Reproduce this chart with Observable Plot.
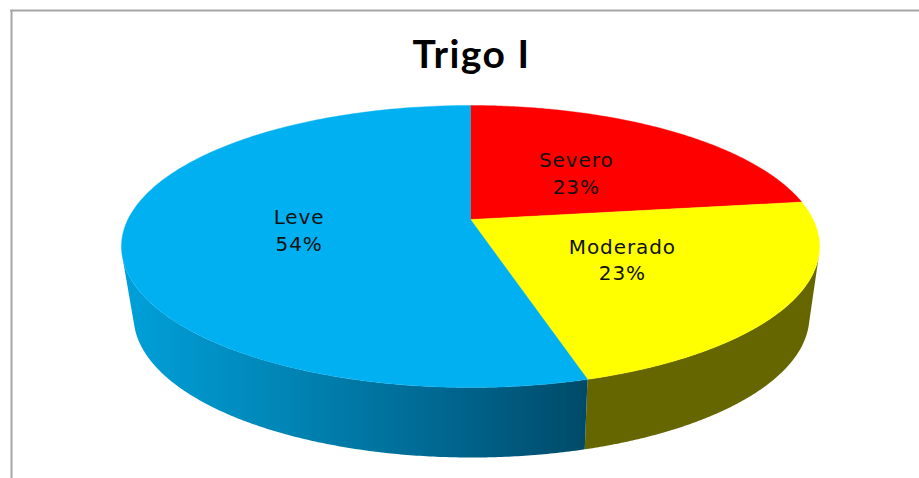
<!DOCTYPE html>
<html>
<head>
<meta charset="utf-8">
<script src="https://cdn.jsdelivr.net/npm/d3@7"></script>
<script src="https://cdn.jsdelivr.net/npm/@observablehq/plot@0.6"></script>
<style>html,body{margin:0;padding:0;background:#fff;overflow:hidden}svg{display:block}</style>
</head>
<body>
<script>
const chartTitle = "Trigo I";
const categories = ["Severo", "Moderado", "Leve"];
const shares = [22.9, 22.6, 54.49];
const topColors = ["#FF0000", "#FFFF00", "#00B0F0"];
const sideColors = ["#8f0000", "#666600", "url(#leveSide)"];

const total = d3.sum(shares);
const starts = [0, ...d3.cumsum(shares)];

// Tilted-disc perspective: v runs from the far rim (-1) to the near rim (+1)
const cx = 470, cy = 219, c = 342.6, p = 93.9, r = -0.1915;
function topRim(frac, t = 1) {
  const th = 2 * Math.PI * frac;
  const u = Math.sin(th) * t, v = -Math.cos(th) * t, w = 1 + r * v;
  return {x: cx + c * u / w, y: (p * v + cy) / w};
}
function bottomRim(frac) {
  const q = topRim(frac);
  return {x: 471 + 0.968 * (q.x - 470), y: q.y + 70};
}
function arc(a, b) {
  return d3.range(0, 201).map((i) => a + (b - a) * i / 200);
}

const wedges = categories.map((name, i) => {
  const a = starts[i] / total, b = starts[i + 1] / total;
  return [{x: cx, y: cy}, ...arc(a, b).map((f) => topRim(f)), {x: cx, y: cy}];
});
const moderadoEnd = starts[2] / total;
// Visible wall only: from the divider out to where each side turns away from view
const sides = [
  {i: 1, a: 0.29, b: moderadoEnd},
  {i: 2, a: moderadoEnd, b: 0.71}
].map(({i, a, b}) => ({
  i,
  pts: [...arc(a, b).map((f) => topRim(f)), ...arc(b, a).map(bottomRim)]
}));
const labels = categories.map((name, i) => {
  const q = topRim((starts[i] + shares[i] / 2) / total, 0.5);
  return {x: q.x, y: q.y, text: `${name}\n${Math.round(shares[i])}%`};
});

const defsMark = () => {
  const defs = d3.create("svg:defs");
  const g = defs.append("linearGradient").attr("id", "leveSide")
    .attr("x1", 0).attr("x2", 1).attr("y1", 0).attr("y2", 0);
  [[0, "#00a0da"], [0.35, "#0085b5"], [0.7, "#00668f"], [1, "#004a68"]]
    .forEach(([o, col]) => g.append("stop").attr("offset", o).attr("stop-color", col));
  return defs.node();
};

const plot = Plot.plot({
  width: 919,
  height: 478,
  margin: 0,
  x: {domain: [0, 919], range: [0, 919], axis: null},
  y: {domain: [0, 478], range: [0, 478], axis: null},
  style: {background: "#fff"},
  marks: [
    defsMark,
    Plot.ruleY([10], {x1: 10, x2: 919, stroke: "#a6a6a6", strokeWidth: 2}),
    Plot.ruleX([11], {y1: 10, y2: 478, stroke: "#a6a6a6", strokeWidth: 2}),
    ...sides.map((s) => Plot.line(s.pts, {
      x: "x", y: "y", fill: sideColors[s.i], stroke: "none", curve: "linear"
    })),
    ...wedges.map((pts, i) => Plot.line(pts, {
      x: "x", y: "y", fill: topColors[i], stroke: topColors[i], strokeWidth: 0.4, curve: "linear"
    })),
    Plot.text(labels, {
      x: "x", y: "y", text: "text", lineHeight: 1.33, dx: 0.5,
      fontFamily: "DejaVu Sans", fontSize: 20, fill: "#111"
    }),
    Plot.text([chartTitle], {
      x: () => 471, y: () => 55, text: (d) => d,
      fontFamily: "Lato", fontWeight: 700, fontSize: 39, fill: "#000"
    })
  ]
});
d3.select(plot).selectAll('g[font-family="DejaVu Sans"]').style("letter-spacing", "0.9px");
d3.select(plot).selectAll('g[font-family="Lato"]').style("letter-spacing", "1.5px");
document.body.append(plot);
</script>
</body>
</html>
